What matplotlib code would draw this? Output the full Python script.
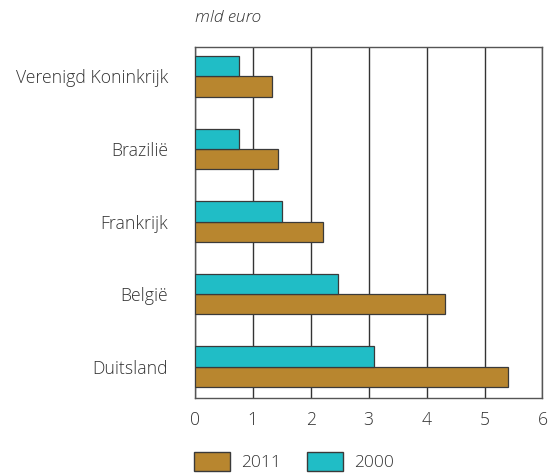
import numpy as np
import matplotlib
matplotlib.use('Agg')
import matplotlib.pyplot as plt
from matplotlib.patches import Patch

plt.rcParams['font.family'] = ['Open Sans', 'DejaVu Sans']
plt.rcParams['font.weight'] = 'light'

# data (mld euro)
landen = ['Duitsland', 'België', 'Frankrijk', 'Brazilië', 'Verenigd Koninkrijk']
waarde_2011 = [5.41, 4.31, 2.21, 1.43, 1.33]
waarde_2000 = [3.09, 2.48, 1.50, 0.77, 0.77]
xticks = [0, 1, 2, 3, 4, 5, 6]

kleur_2011 = '#B8862F'
kleur_2000 = '#20BDC6'
tekst = '#333333'

fig = plt.figure(figsize=(5.53, 4.75), dpi=100)
ax = fig.add_axes([0.352, 0.1615, 0.629, 0.739])

y = np.arange(len(landen))
h = 0.28
ax.barh(y - h / 2, waarde_2011, height=h, color=kleur_2011, edgecolor='#3a3a3a', linewidth=0.9, zorder=3)
ax.barh(y + h / 2, waarde_2000, height=h, color=kleur_2000, edgecolor='#3a3a3a', linewidth=0.9, zorder=3)

ax.set_xlim(0, 6)
ax.set_ylim(-0.435, 4.40)
ax.set_xticks(xticks)
ax.set_yticks(y)
ax.set_yticklabels(landen)
ax.tick_params(axis='both', length=0, labelsize=12.7, colors=tekst)
ax.tick_params(axis='x', pad=9.5)
ax.tick_params(axis='y', pad=19)
ax.xaxis.grid(True, color='#333333', linewidth=1.0, zorder=0)
for s in ax.spines.values():
    s.set_color('#555555')
    s.set_linewidth(1.0)

fig.text(0.352, 0.962, 'mld euro', fontsize=12.5, style='italic', color=tekst, ha='left', va='center')

handles = [Patch(facecolor=kleur_2011, edgecolor='#3a3a3a', label='2011'),
           Patch(facecolor=kleur_2000, edgecolor='#3a3a3a', label='2000')]
fig.legend(handles=handles, loc='lower left', bbox_to_anchor=(0.348, 0.004), ncol=2, frameon=False,
           fontsize=12.5, handlelength=2.05, handleheight=1.25, columnspacing=1.5, handletextpad=0.65,
           borderaxespad=0, borderpad=0.1, labelcolor=tekst)

fig.savefig('out.png', dpi=100)
